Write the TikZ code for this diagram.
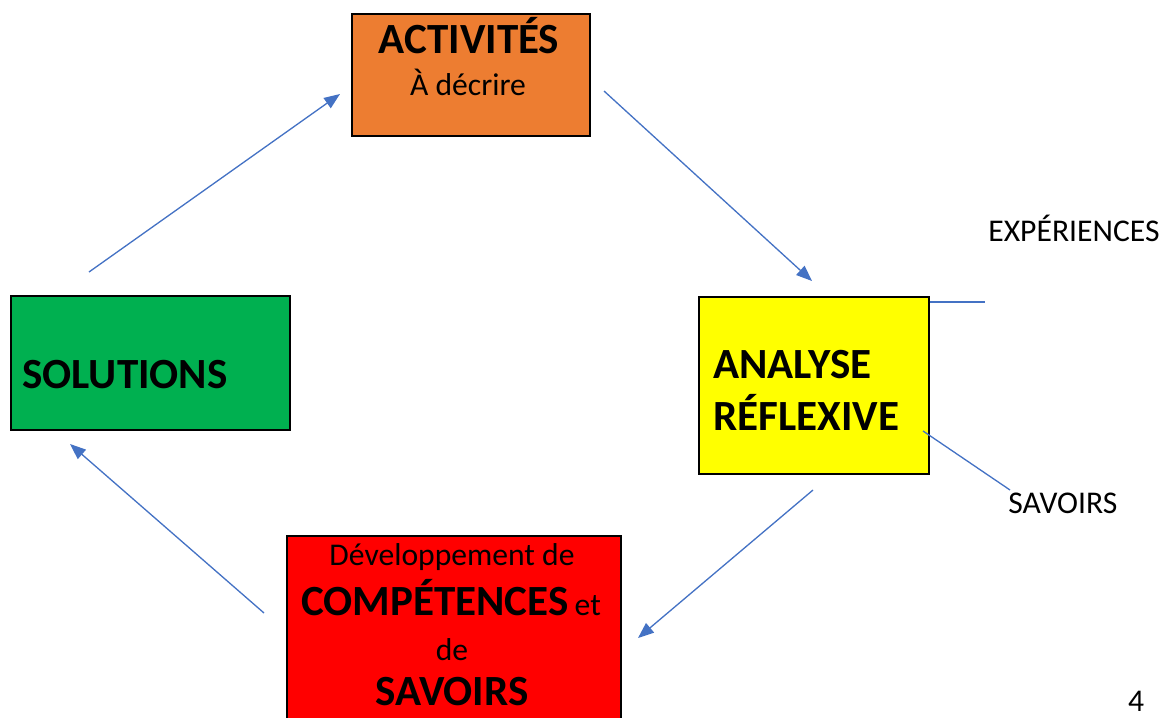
\documentclass[tikz,border=0pt]{standalone}
\usepackage{fontspec}
\setmainfont{Carlito}
\usetikzlibrary{arrows.meta}
\definecolor{actorange}{HTML}{ED7D31}
\definecolor{solgreen}{HTML}{00B050}
\definecolor{anayellow}{HTML}{FFFF00}
\definecolor{devred}{HTML}{FF0000}
\definecolor{linkblue}{HTML}{4472C4}
\newcommand{\bigtxt}{\fontsize{24.5}{29}\selectfont\bfseries}
\newcommand{\smalltxt}{\fontsize{18}{22}\selectfont}
\begin{document}
\begin{tikzpicture}
  [x=0.02cm,y=-0.02cm,
   box/.style={rectangle,draw=black,line width=0.8pt,inner sep=0pt},
   txt/.style={inner sep=0pt,anchor=base},
   link/.style={draw=linkblue,line width=0.75pt},
   arr/.style={link,-{Triangle[length=9pt,width=7pt]}}]
  \clip (0,0) rectangle (1165,717);
  % boxes
  \node[box,fill=actorange,minimum width=4.76cm,minimum height=2.44cm] (act) at (471,75) {};
  \node[box,fill=solgreen,minimum width=5.58cm,minimum height=2.68cm] (sol) at (150.5,363) {};
  \node[box,fill=anayellow,minimum width=4.6cm,minimum height=3.54cm] (ana) at (814,385.5) {};
  \node[box,fill=devred,minimum width=6.68cm,minimum height=4.08cm] (dev) at (454,638) {};
  % texts
  \node[txt] (actT) at (469,53) {\bigtxt ACTIVITÉS};
  \node[txt] (actS) at (468,95) {\smalltxt À décrire};
  \node[txt,anchor=base west] (solT) at (22,388) {\bigtxt SOLUTIONS};
  \node[txt,anchor=base west] (anaA) at (713,378) {\bigtxt ANALYSE};
  \node[txt,anchor=base west] (anaB) at (713,430) {\bigtxt RÉFLEXIVE};
  \node[txt,anchor=base west] (exp) at (988,241) {\smalltxt EXPÉRIENCES};
  \node[txt,anchor=base west] (sav) at (1008,513) {\smalltxt SAVOIRS};
  \node[txt] (devA) at (452,565) {\smalltxt Développement de};
  \node[txt] (devB) at (451,615) {{\bigtxt COMPÉTENCES}\hspace{0.12cm}{\smalltxt et}};
  \node[txt] (devC) at (452,660) {\smalltxt de};
  \node[txt] (devD) at (452,705) {\bigtxt SAVOIRS};
  \node[txt] (page) at (1136,711) {\smalltxt 4};
  % arrow ends
  \coordinate (s1) at (89,272);
  \coordinate (s2) at (340,94);
  \coordinate (a1) at (604,91);
  \coordinate (a2) at (812,281);
  \coordinate (r1) at (813,490);
  \coordinate (r2) at (638,638);
  \coordinate (d1) at (264,613);
  \coordinate (d2) at (70,444);
  \coordinate (e1) at (985,302);
  \coordinate (k1) at (923,431);
  \coordinate (k2) at (1010,490);
  \draw[arr] (s1) -- (s2);
  \draw[arr] (a1) -- (a2);
  \draw[arr] (r1) -- (r2);
  \draw[arr] (d1) -- (d2);
  \draw[link] (ana.east |- e1) -- (e1);
  \draw[link] (k1) -- (k2);
\end{tikzpicture}
\end{document}
